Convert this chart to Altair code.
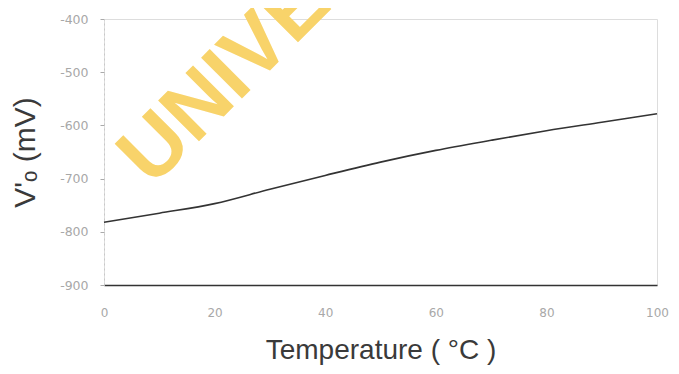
import altair as alt
import pandas as pd

# Curve
temperature = [0, 10, 20, 30, 40, 50, 60, 70, 80, 90, 100]
voltage = [-782, -765, -747, -720, -694, -669, -647, -628, -610, -594, -578]

x_ticks = [0, 20, 40, 60, 80, 100]
y_ticks = [-400, -500, -600, -700, -800, -900]

# Watermark (yellow text across the scan)
wm_text = ["UNIVERSITY"]
wm_x = [8.7]
wm_y = [-718]

df = pd.DataFrame({"T": temperature, "V": voltage})
wm = pd.DataFrame({"text": wm_text, "T": wm_x, "V": wm_y})

xscale = alt.Scale(domain=[0, 100], nice=False, zero=False)
yscale = alt.Scale(domain=[-900, -400], nice=False, zero=False)

minus_fix = "replace(datum.label, '\u2212', '-')"

line = alt.Chart(df).mark_line(color="#333333", strokeWidth=1.6, interpolate="monotone").encode(
    x=alt.X("T:Q", scale=xscale,
            axis=alt.Axis(values=x_ticks, title="Temperature  ( °C )",
                          titleFont="Liberation Sans", titleFontSize=28,
                          titleFontWeight="normal", titleColor="#3a3a3a",
                          titlePadding=18,
                          labelFont="DejaVu Sans", labelFontSize=12,
                          labelColor="#a8a8a8", labelPadding=22,
                          labelFlush=False, labelExpr=minus_fix,
                          ticks=False, domainColor="#333333", domainWidth=1.4,
                          grid=False)),
    y=alt.Y("V:Q", scale=yscale,
            axis=alt.Axis(values=y_ticks, title="V'ₒ  (mV)",
                          titleFont="Liberation Sans", titleFontSize=30,
                          titleFontWeight="normal", titleColor="#3a3a3a",
                          titlePadding=19,
                          labelFont="DejaVu Sans", labelFontSize=12.5,
                          labelColor="#a8a8a8", labelPadding=12,
                          labelExpr=minus_fix,
                          tickSize=4, tickColor="#aaaaaa",
                          domainColor="#c8c8c8", domainDash=[2, 3],
                          grid=False)),
)

watermark = alt.Chart(wm).mark_text(
    align="left", baseline="alphabetic", angle=315,
    font="Liberation Sans", fontSize=84, fontWeight="bold",
    color="#f8d36a",
).encode(x=alt.X("T:Q", scale=xscale), y=alt.Y("V:Q", scale=yscale), text="text:N")

chart = (line + watermark).properties(
    width=553, height=266,
    autosize=alt.AutoSizeParams(type="none"),
    padding={"left": 96, "top": 11, "right": 14, "bottom": 81},
).configure_view(strokeWidth=0).configure(background="white")

chart.save("out.html", embed_options={"renderer": "svg", "actions": False})
